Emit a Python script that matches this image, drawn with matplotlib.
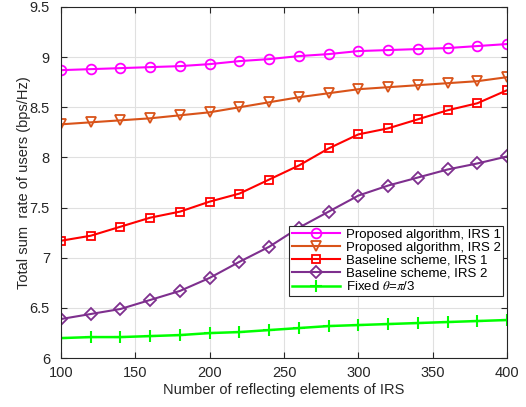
import matplotlib
matplotlib.use("Agg")
from matplotlib import pyplot as plt
import numpy as np

plt.rcParams['font.family'] = ['Liberation Sans', 'DejaVu Sans']
plt.rcParams['mathtext.fontset'] = 'stix'

n_elements = [100, 120, 140, 160, 180, 200, 220, 240, 260, 280, 300, 320, 340, 360, 380, 400]

proposed_irs1 = [8.87, 8.88, 8.89, 8.90, 8.91, 8.93, 8.96, 8.98, 9.01, 9.03, 9.06, 9.07, 9.08, 9.09, 9.11, 9.13]
proposed_irs2 = [8.33, 8.35, 8.37, 8.39, 8.42, 8.45, 8.50, 8.55, 8.60, 8.64, 8.68, 8.70, 8.72, 8.74, 8.76, 8.80]
baseline_irs1 = [7.17, 7.22, 7.31, 7.40, 7.46, 7.56, 7.64, 7.78, 7.92, 8.09, 8.23, 8.29, 8.38, 8.47, 8.54, 8.67]
baseline_irs2 = [6.39, 6.44, 6.49, 6.58, 6.67, 6.80, 6.96, 7.11, 7.30, 7.46, 7.62, 7.72, 7.80, 7.88, 7.94, 8.01]
fixed_theta = [6.20, 6.21, 6.21, 6.22, 6.23, 6.25, 6.26, 6.28, 6.30, 6.32, 6.33, 6.34, 6.35, 6.36, 6.37, 6.38]

fig = plt.figure(figsize=(5.26, 4.07), dpi=100)
ax = fig.add_axes([0.116, 0.12, 0.848, 0.863])

mfc = 'none'
ax.plot(n_elements, proposed_irs1, color='#FF00FF', marker='o', markersize=7, mfc=mfc, mew=1.3, lw=1.5,
        label='Proposed algorithm, IRS 1')
ax.plot(n_elements, proposed_irs2, color='#D95319', marker='v', markersize=7, mfc=mfc, mew=1.3, lw=1.5,
        label='Proposed algorithm, IRS 2')
ax.plot(n_elements, baseline_irs1, color='#FF0000', marker='s', markersize=6, mfc=mfc, mew=1.3, lw=1.5,
        label='Baseline scheme, IRS 1')
ax.plot(n_elements, baseline_irs2, color='#7E2F8E', marker='D', markersize=6.5, mfc=mfc, mew=1.3, lw=1.5,
        label='Baseline scheme, IRS 2')
ax.plot(n_elements, fixed_theta, color='#00FF00', marker='+', markersize=8, mew=1.5, lw=1.8,
        label=r'Fixed $\theta$=$\pi$/3')

ax.set_xlim(100, 400)
ax.set_ylim(6, 9.5)
ax.set_xticks(np.arange(100, 401, 50))
ax.set_yticks(np.arange(6, 9.51, 0.5))
ax.set_yticklabels(['6', '6.5', '7', '7.5', '8', '8.5', '9', '9.5'])
ax.grid(True, color='#E0E0E0', lw=0.8)
ax.set_axisbelow(True)
ax.tick_params(direction='in', top=True, right=True, labelsize=10.5, colors='#262626', length=4)
ax.tick_params(axis='x', pad=6)
ax.tick_params(axis='y', pad=8)
for s in ax.spines.values():
    s.set_color('#262626')
    s.set_linewidth(0.8)

ax.set_xlabel('Number of reflecting elements of IRS', fontsize=10.5, color='#262626', labelpad=2)
ax.set_ylabel('Total sum  rate of users (bps/Hz)', fontsize=10.5, color='#262626', labelpad=-1)

leg = ax.legend(loc='upper left', bbox_to_anchor=(0.511, 0.376), fontsize=9.5, fancybox=False,
                framealpha=1, edgecolor='#262626', handlelength=3.7, borderpad=0.2,
                labelspacing=0.05, handletextpad=0.4, borderaxespad=0)
leg.get_frame().set_linewidth(0.8)

fig.savefig('out.png', dpi=100)
